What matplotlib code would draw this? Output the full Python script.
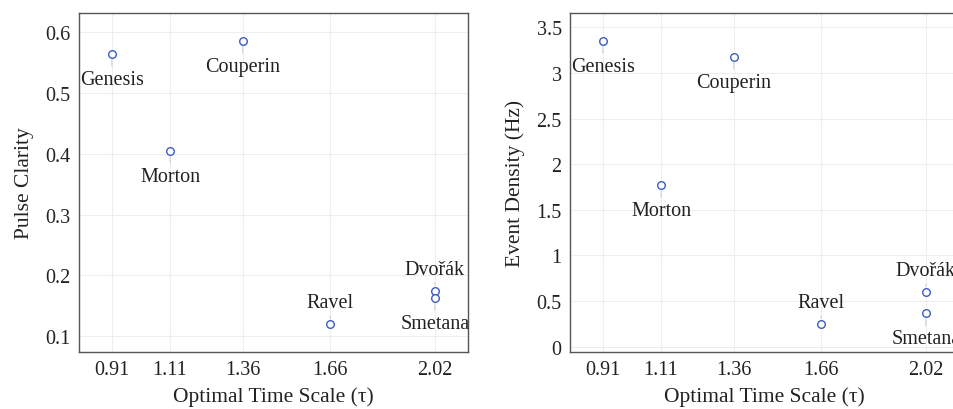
import matplotlib.pyplot as plt

plt.rcParams['font.family'] = ['Liberation Serif', 'DejaVu Serif']

pieces = ['Genesis', 'Morton', 'Couperin', 'Ravel', 'Dvořák', 'Smetana']
time_scale = [0.91, 1.11, 1.36, 1.66, 2.02, 2.02]
pulse_clarity = [0.565, 0.405, 0.586, 0.120, 0.175, 0.163]
event_density = [3.35, 1.775, 3.18, 0.25, 0.596, 0.366]

# label above (+1) or below (-1) the point
pos_left = [-1, -1, -1, 1, 1, -1]
pos_right = [-1, -1, -1, 1, 1, -1]

xticks = [0.91, 1.11, 1.36, 1.66, 2.02]
xticklabels = ['0.91', '1.11', '1.36', '1.66', '2.02']
yticks_left = [0.1, 0.2, 0.3, 0.4, 0.5, 0.6]
yticks_right = [0, 0.5, 1, 1.5, 2, 2.5, 3, 3.5]

W, H = 954, 410
fig = plt.figure(figsize=(W / 100, H / 100), dpi=100)
ax1 = fig.add_axes([79 / W, 1 - 353 / H, 389 / W, 339 / H])
ax2 = fig.add_axes([570 / W, 1 - 353 / H, 389 / W, 339 / H])


def draw(ax, y, yticks, ylim, ylabel, pos):
    ax.scatter(time_scale, y, s=30, facecolors='white', edgecolors='#3b5cc4',
               linewidths=1.0, zorder=3)
    for name, xv, yv, p in zip(pieces, time_scale, y, pos):
        dy = 12.2 if p > 0 else -21.6
        ax.annotate(name, (xv, yv), xytext=(0, dy), textcoords='offset points',
                    ha='center', va='baseline', fontsize=14.5, color='#222222',
                    annotation_clip=False,
                    arrowprops=dict(arrowstyle='-', color='#aaaaaa', lw=0.6,
                                    linestyle=(0, (1, 1.5)), shrinkA=1, shrinkB=4))
    ax.set_xlim(0.797, 2.134)
    ax.set_ylim(*ylim)
    ax.set_xticks(xticks)
    ax.set_xticklabels(xticklabels)
    ax.set_yticks(yticks)
    ax.set_yticklabels([f'{t:g}' for t in yticks])
    ax.tick_params(length=0, labelsize=14.5, pad=6, colors='#222222')
    ax.grid(True, color='#eeeeee', lw=0.8)
    ax.set_axisbelow(True)
    for s in ax.spines.values():
        s.set_color('#555555')
        s.set_linewidth(1.0)
    ax.set_xlabel('Optimal Time Scale (τ)', fontsize=15.5, color='#222222', labelpad=5)
    ax.set_ylabel(ylabel, fontsize=15.5, color='#222222', labelpad=8)


draw(ax1, pulse_clarity, yticks_left, (0.074, 0.632), 'Pulse Clarity', pos_left)
draw(ax2, event_density, yticks_right, (-0.058, 3.657), 'Event Density (Hz)', pos_right)

fig.savefig('out.png', dpi=100)
